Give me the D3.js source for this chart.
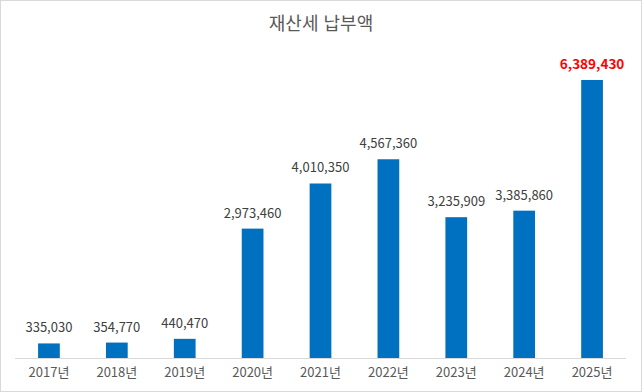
<!DOCTYPE html>
<html lang="ko">
  <head>
    <meta charset="utf-8">
    <title>재산세 납부액</title>
    <script src="https://d3js.org/d3.v7.min.js"></script>
    <style>
      body { margin: 0; background: #fff; }
      text { font-family: "Noto Sans CJK KR", "Noto Sans", sans-serif; }
    </style>
  </head>

  <body>
  <script>

  // chart data
  var years = ["2017년", "2018년", "2019년", "2020년", "2021년", "2022년", "2023년", "2024년", "2025년"];
  var amounts = [335030, 354770, 440470, 2973460, 4010350, 4567360, 3235909, 3385860, 6389430];
  var highlightYear = "2025년";

  var w = 642;
  var h = 392;

  var svg = d3.select("body")
    .append("svg")
      .attr("width", w)
      .attr("height", h);

  // outer border
  svg.append("rect")
      .attr("x", 0.5)
      .attr("y", 0.5)
      .attr("width", w - 1)
      .attr("height", h - 1)
      .attr("fill", "#fff")
      .attr("stroke", "#d9d9d9");

  svg.append("text")
      .attr("x", w / 2)
      .attr("y", 30)
      .attr("text-anchor", "middle")
      .attr("font-size", 18)
      .attr("fill", "#595959")
      .text("재산세 납부액");

  var xScale = d3.scaleBand()
    .domain(years)
    .range([15, 626])
    .paddingInner(0.68)
    .paddingOuter(0.34);

  var yScale = d3.scaleLinear()
    .domain([0, 7000000])
    .range([358, 53.4]);

  var data = years.map((y, i) => ({year: y, value: amounts[i]}));

  svg.selectAll("rect.bar")
      .data(data)
    .enter().append("rect")
      .attr("class", "bar")
      .attr("x", d => xScale(d.year))
      .attr("y", d => yScale(d.value))
      .attr("width", xScale.bandwidth())
      .attr("height", d => yScale(0) - yScale(d.value))
      .attr("fill", "#0070c0");

  // baseline
  svg.append("line")
      .attr("x1", 15)
      .attr("x2", 626)
      .attr("y1", 358.5)
      .attr("y2", 358.5)
      .attr("stroke", "#d9d9d9");

  var fmt = d3.format(",");

  svg.selectAll("text.value")
      .data(data)
    .enter().append("text")
      .attr("class", "value")
      .attr("x", d => xScale(d.year) + xScale.bandwidth() / 2)
      .attr("y", d => yScale(d.value) - 11)
      .attr("text-anchor", "middle")
      .attr("font-size", d => d.year == highlightYear ? 13.5 : 13)
      .attr("font-weight", d => d.year == highlightYear ? "bold" : "normal")
      .attr("fill", d => d.year == highlightYear ? "#ff0000" : "#404040")
      .text(d => fmt(d.value));

  var xAxis = d3.axisBottom(xScale).tickSize(0).tickPadding(10);

  var gx = svg.append("g")
      .attr("transform", "translate(0,358)")
      .call(xAxis);
  gx.select(".domain").remove();
  gx.selectAll("text")
      .attr("font-size", 13)
      .attr("fill", "#595959")
      .style("font-family", "'Noto Sans CJK KR', sans-serif");

  </script>
  </body>
</html>
